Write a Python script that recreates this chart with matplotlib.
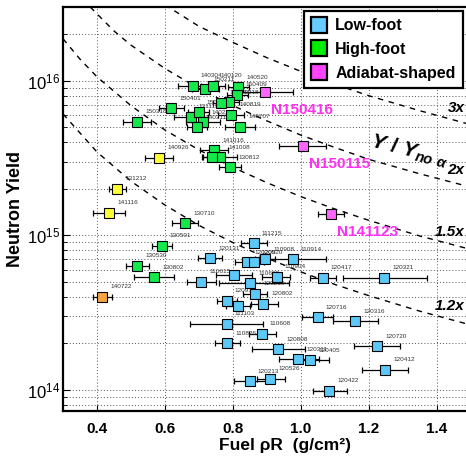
"""
plot.py
Neutron yield vs fuel rho-R, NIF shots by campaign
"""

import matplotlib
matplotlib.use("Agg")
import matplotlib.pyplot as plt
from matplotlib.lines import Line2D
from matplotlib.ticker import LogLocator, NullFormatter, FixedLocator

# -------------------------------------------------
# Data
# -------------------------------------------------

# Low-foot shots
lf_labels = ["111215", "120131", "120205", "120920", "110908", "110914", "120417",
             "120321", "110615", "", "110603", "110904", "120219", "120913",
             "120802", "", "111103", "110608", "110826", "120808", "120311",
             "120405", "120213", "120526", "120422", "120716", "120316",
             "120720", "120412"]
lf_rho = [0.861, 0.733, 0.841, 0.861, 0.895, 0.976, 1.064,
          1.246, 0.707, 0.802, 0.851, 0.929, 0.866, 0.782,
          0.890, 0.816, 0.782, 0.885, 0.784, 0.934, 0.993,
          1.027, 0.849, 0.910, 1.083, 1.049, 1.160,
          1.225, 1.248]
lf_yield = [8.9e14, 7.12e14, 6.71e14, 6.71e14, 7.02e14, 7.02e14, 5.33e14,
            5.33e14, 5.02e14, 5.55e14, 4.91e14, 5.41e14, 4.18e14, 3.77e14,
            3.61e14, 3.50e14, 2.67e14, 2.30e14, 2.00e14, 1.83e14, 1.58e14,
            1.56e14, 1.14e14, 1.18e14, 9.9e13, 2.96e14, 2.77e14,
            1.91e14, 1.35e14]
lf_err_lo = [0.038, 0.035, 0.034, 0.030, 0.030, 0.098, 0.038,
             0.122, 0.042, 0.053, 0.093, 0.044, 0.035, 0.030,
             0.037, 0.035, 0.108, 0.039, 0.036, 0.078, 0.057,
             0.040, 0.047, 0.039, 0.048, 0.046, 0.066,
             0.068, 0.068]
lf_err_hi = [0.038, 0.035, 0.035, 0.030, 0.030, 0.098, 0.040,
             0.126, 0.042, 0.053, 0.113, 0.039, 0.035, 0.030,
             0.044, 0.035, 0.108, 0.041, 0.037, 0.079, 0.059,
             0.057, 0.047, 0.044, 0.052, 0.045, 0.066,
             0.068, 0.068]

# High-foot shots
hf_labels = ["140304", "150211", "140120", "140520", "150409", "150218", "140511",
             "150401", "131119", "150121", "140225", "140311", "140819", "150318",
             "140707", "141016", "141008", "", "130812", "130710", "130501",
             "130530", "130802"]
hf_rho = [0.682, 0.719, 0.741, 0.816, 0.813, 0.789, 0.766,
          0.619, 0.676, 0.699, 0.713, 0.695, 0.795, 0.519,
          0.821, 0.745, 0.763, 0.738, 0.792, 0.660, 0.591,
          0.519, 0.569]
hf_yield = [9.29e15, 8.84e15, 9.29e15, 9.1e15, 8.11e15, 7.28e15, 7.21e15,
            6.66e15, 5.87e15, 6.24e15, 5.37e15, 5.01e15, 6.03e15, 5.41e15,
            5.04e15, 3.54e15, 3.21e15, 3.21e15, 2.76e15, 1.20e15, 8.59e14,
            6.35e14, 5.36e14]
hf_err = [0.044, 0.040, 0.035, 0.030, 0.030, 0.030, 0.025,
          0.037, 0.050, 0.030, 0.050, 0.030, 0.038, 0.041,
          0.044, 0.041, 0.050, 0.030, 0.032, 0.038, 0.030,
          0.035, 0.059]

# Other high-foot variants (yellow) and one orange shot
yel_labels = ["140926", "131212", "141116"]
yel_rho = [0.583, 0.460, 0.436]
yel_yield = [3.18e15, 2.0e15, 1.40e15]
yel_err = [0.041, 0.024, 0.047]

org_labels = ["140722"]
org_rho = [0.416]
org_yield = [4.0e14]
org_err = [0.029]

# Adiabat-shaped shots
as_labels = ["N150416", "N150115", "N141123"]
as_rho = [0.895, 1.006, 1.088]
as_yield = [8.40e15, 3.76e15, 1.37e15]
as_err = [0.082, 0.069, 0.038]

# Y / Y_no-alpha contours
curve_names = ["3x", "2x", "1.5x", "1.2x"]
curve_rho = [
    [0.60, 0.70, 0.80, 0.90, 1.00, 1.10, 1.20, 1.35, 1.50],
    [0.38, 0.45, 0.50, 0.60, 0.70, 0.80, 0.90, 1.00, 1.10, 1.20, 1.35, 1.50],
    [0.30, 0.35, 0.40, 0.50, 0.60, 0.70, 0.80, 0.90, 1.00, 1.10, 1.20, 1.35, 1.50],
    [0.30, 0.40, 0.50, 0.60, 0.70, 0.80, 0.90, 1.00, 1.10, 1.20, 1.35, 1.50],
]
curve_yield = [
    [3.1e16, 2.25e16, 1.77e16, 1.41e16, 1.15e16, 9.5e15, 8.0e15, 6.4e15, 5.2e15],
    [3.0e16, 2.1e16, 1.7e16, 1.2e16, 8.9e15, 6.9e15, 5.5e15, 4.45e15, 3.7e15,
     3.1e15, 2.5e15, 2.05e15],
    [1.87e16, 1.38e16, 1.06e16, 6.9e15, 4.8e15, 3.57e15, 2.75e15, 2.19e15,
     1.78e15, 1.48e15, 1.25e15, 9.9e14, 8.1e14],
    [6.1e15, 3.46e15, 2.24e15, 1.57e15, 1.16e15, 8.97e14, 7.12e14, 5.8e14,
     4.81e14, 4.07e14, 3.23e14, 2.63e14],
]
curve_label_y = [6.68e15, 2.65e15, 1.05e15, 3.5e14]

x_ticks = [0.4, 0.6, 0.8, 1.0, 1.2, 1.4]

# -------------------------------------------------
# Style
# -------------------------------------------------

plt.rcParams["font.family"] = ["Liberation Sans", "DejaVu Sans"]
plt.rcParams["mathtext.fontset"] = "custom"
plt.rcParams["mathtext.rm"] = "Liberation Sans:bold"
plt.rcParams["mathtext.it"] = "Liberation Sans:italic:bold"
plt.rcParams["mathtext.bf"] = "Liberation Sans:bold"

C_LOW = "#5cc8f8"
C_HIGH = "#14e84a"
C_ADI = "#ff66ff"
C_YEL = "#ffff33"
C_ORG = "#f5a345"
C_ADI_TXT = "#ff30f0"

fig = plt.figure(figsize=(4.66, 4.58), dpi=100)
ax = fig.add_axes([63 / 466, 47 / 458, 403 / 466, 404 / 458])

ax.set_xscale("linear")
ax.set_yscale("log")
ax.set_xlim(0.3, 1.486)
ax.set_ylim(7.3e13, 3.0e16)

# -------------------------------------------------
# Grid
# -------------------------------------------------

ax.xaxis.set_major_locator(FixedLocator(x_ticks))
ax.yaxis.set_major_locator(LogLocator(base=10))
ax.yaxis.set_minor_locator(LogLocator(base=10, subs=range(2, 10)))
ax.yaxis.set_minor_formatter(NullFormatter())

grid_style = dict(color="#555555", linestyle=(0, (1, 2.2)), linewidth=0.7)
ax.grid(True, which="major", axis="x", **grid_style)
ax.grid(True, which="both", axis="y", **grid_style)
ax.set_axisbelow(True)

# -------------------------------------------------
# Contours
# -------------------------------------------------

for rho, yld in zip(curve_rho, curve_yield):
    ax.plot(rho, yld, color="black", lw=1.0, ls=(0, (4, 4)), zorder=2)

for name, ly in zip(curve_names, curve_label_y):
    ax.text(1.482, ly, name, fontsize=11, fontweight="bold", style="italic",
            ha="right", va="center", zorder=6)

ax.text(1.32, 3.5e15, r"$Y\ /\ Y_{no\ \alpha}$", fontsize=15,
        rotation=-14, ha="center", va="center", zorder=6)

# -------------------------------------------------
# Points
# -------------------------------------------------

def draw_group(rho, yld, err_lo, err_hi, color, labels, small=True):
    ax.errorbar(rho, yld, xerr=[err_lo, err_hi], fmt="none", ecolor="black",
                elinewidth=0.9, capsize=2.2, capthick=0.9, zorder=3)
    ax.plot(rho, yld, "s", ms=7.7, mfc=color, mec="black", mew=0.8,
            ls="none", zorder=4)
    for lab, r, y in zip(labels, rho, yld):
        if not lab:
            continue
        if small:
            ax.annotate(lab, (r, y), xytext=(5.8, 7.2), textcoords="offset points",
                        fontsize=4.6, color="#333333", ha="left", va="center",
                        zorder=3.5)
        else:
            ax.annotate(lab, (r, y), xytext=(4.3, -12.5), textcoords="offset points",
                        fontsize=11, fontweight="bold", color=C_ADI_TXT,
                        ha="left", va="center", zorder=6)


draw_group(lf_rho, lf_yield, lf_err_lo, lf_err_hi, C_LOW, lf_labels)
draw_group(hf_rho, hf_yield, hf_err, hf_err, C_HIGH, hf_labels)
draw_group(yel_rho, yel_yield, yel_err, yel_err, C_YEL, yel_labels)
draw_group(org_rho, org_yield, org_err, org_err, C_ORG, org_labels)
draw_group(as_rho, as_yield, as_err, as_err, C_ADI, as_labels, small=False)

# -------------------------------------------------
# Axes
# -------------------------------------------------

for sp in ax.spines.values():
    sp.set_linewidth(1.6)
ax.spines["right"].set_visible(False)

ax.tick_params(axis="x", which="major", direction="in", length=4, width=0.8,
               labelsize=11, pad=8)
ax.tick_params(axis="y", which="major", direction="in", length=5, width=0.8,
               labelsize=12, pad=2)
ax.tick_params(axis="y", which="minor", direction="in", length=3, width=0.6)
ax.set_xticklabels(["0.4", "0.6", "0.8", "1.0", "1.2", "1.4"], fontweight="bold")

ax.set_xlabel("Fuel \u03c1R  (g/cm\u00b2)", fontsize=12.5, fontweight="bold")
ax.xaxis.set_label_coords((285 - 63) / 403, -0.068)
ax.set_ylabel("Neutron Yield", fontsize=13, fontweight="bold", labelpad=2)

# -------------------------------------------------
# Legend
# -------------------------------------------------

handles = [
    Line2D([], [], marker="s", ls="none", ms=12, mfc="#66ccff", mec="black", mew=1.6),
    Line2D([], [], marker="s", ls="none", ms=12, mfc="#00ee00", mec="black", mew=1.6),
    Line2D([], [], marker="s", ls="none", ms=12, mfc="#ff44ff", mec="black", mew=1.6),
]
leg = ax.legend(handles, ["Low-foot", "High-foot", "Adiabat-shaped"],
                loc="upper right", bbox_to_anchor=(0.992, 0.99),
                prop={"weight": "bold", "size": 11.5}, frameon=True,
                fancybox=False, framealpha=1, edgecolor="black",
                borderpad=0.45, labelspacing=0.55, handlelength=1.0,
                handletextpad=0.5, borderaxespad=0)
leg.get_frame().set_linewidth(1.6)
leg.set_zorder(10)

fig.savefig("out.png", dpi=100)
